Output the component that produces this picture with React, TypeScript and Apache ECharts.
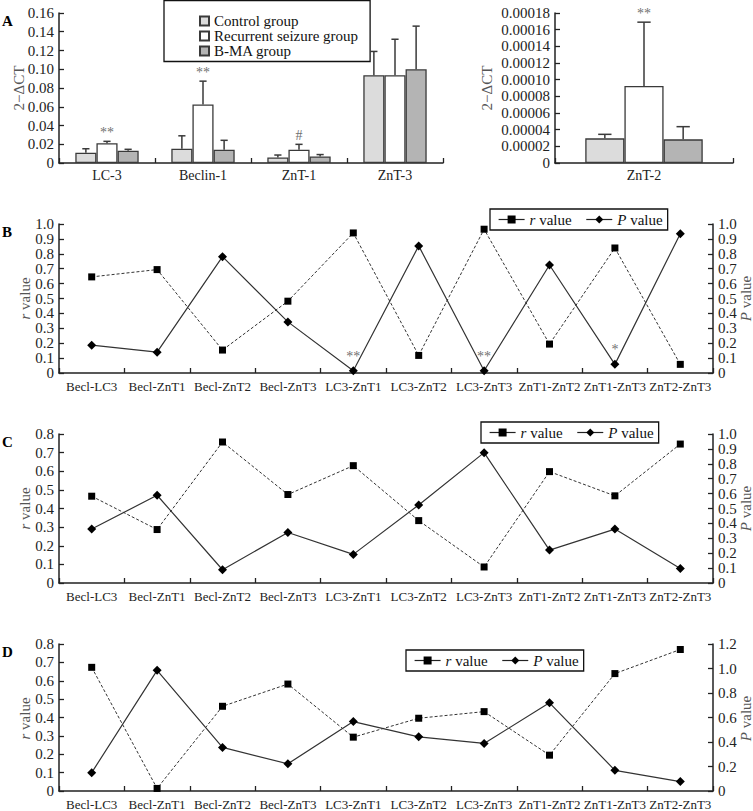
import React, { useEffect, useRef } from 'react';
import * as echarts from 'echarts';

const FONT = '"Liberation Serif", "Times New Roman", serif';

// ---------- Panel A data ----------
const aCategories = ['LC-3', 'Beclin-1', 'ZnT-1', 'ZnT-3'];
const groupNames = ['Control group', 'Recurrent seizure group', 'B-MA group'];
const controlMean = [0.011, 0.0152, 0.006, 0.0937];
const controlUpper = [0.0152, 0.029, 0.0085, 0.119];
const seizureMean = [0.021, 0.0625, 0.0142, 0.0937];
const seizureUpper = [0.0231, 0.0873, 0.0199, 0.132];
const bmaMean = [0.0131, 0.0142, 0.007, 0.1];
const bmaUpper = [0.0146, 0.0242, 0.009, 0.146];
const seizureMarks = ['**', '**', '#', ''];

const a2Categories = ['ZnT-2'];
const a2ControlMean = [0.0000296];
const a2ControlUpper = [0.0000344];
const a2SeizureMean = [0.0000924];
const a2SeizureUpper = [0.000169];
const a2BmaMean = [0.0000284];
const a2BmaUpper = [0.0000436];
const a2SeizureMarks = ['**'];

// ---------- Panels B-D data ----------
const pairs = ['Becl-LC3', 'Becl-ZnT1', 'Becl-ZnT2', 'Becl-ZnT3', 'LC3-ZnT1', 'LC3-ZnT2', 'LC3-ZnT3', 'ZnT1-ZnT2', 'ZnT1-ZnT3', 'ZnT2-ZnT3'];
const rB = [0.645, 0.694, 0.154, 0.482, 0.94, 0.118, 0.965, 0.194, 0.839, 0.058];
const pB = [0.187, 0.14, 0.781, 0.343, 0.015, 0.853, 0.015, 0.725, 0.058, 0.935];
const pMarksB = ['', '', '', '', '**', '', '**', '', '*', ''];
const rC = [0.466, 0.287, 0.757, 0.475, 0.63, 0.335, 0.086, 0.598, 0.468, 0.746];
const pC = [0.362, 0.589, 0.089, 0.339, 0.192, 0.524, 0.875, 0.221, 0.362, 0.098];
const rD = [0.673, 0.014, 0.461, 0.582, 0.293, 0.396, 0.432, 0.195, 0.639, 0.77];
const pD = [0.15, 0.985, 0.356, 0.222, 0.567, 0.442, 0.388, 0.72, 0.169, 0.077];

const BAR_FRAC = 0.22;
const DARK = '#222';
const EDGE = '#3a3a3a';
const MARK = '#707070';
const NAME_COLOR = '#555';
const GROUP_COLORS = ['#dcdcdc', '#ffffff', '#b4b4b4'];

function fmtFixed(d: number) {
  return (v: number) => (Math.abs(v) < 1e-12 ? '0' : v.toFixed(d));
}

function errItems(means: number[][], uppers: number[][], marks: string[][]) {
  const items: { cat: number; g: number; mean: number; upper: number; mark: string }[] = [];
  for (let g = 0; g < means.length; g++) {
    for (let i = 0; i < means[g].length; i++) {
      items.push({ cat: i, g, mean: means[g][i], upper: uppers[g][i], mark: marks[g][i] || '' });
    }
  }
  return items;
}

function errorSeries(items: ReturnType<typeof errItems>, axisIndex: number) {
  return {
    type: 'custom',
    xAxisIndex: axisIndex,
    yAxisIndex: axisIndex,
    z: 5,
    silent: true,
    encode: { x: 0, y: [2, 3] },
    data: items.map((d) => [d.cat, d.g, d.mean, d.upper]),
    renderItem: (params: any, api: any) => {
      const item = items[params.dataIndex];
      const band = api.size([1, 0])[0];
      const bw = band * BAR_FRAC;
      const base = api.coord([item.cat, item.mean]);
      const top = api.coord([item.cat, item.upper]);
      const x = base[0] + (item.g - 1) * bw;
      const cap = bw * 0.17;
      const children: any[] = [
        { type: 'line', shape: { x1: x, y1: base[1], x2: x, y2: top[1] }, style: { stroke: EDGE, lineWidth: 1.5 } },
        { type: 'line', shape: { x1: x - cap, y1: top[1], x2: x + cap, y2: top[1] }, style: { stroke: EDGE, lineWidth: 1.5 } },
      ];
      if (item.mark) {
        children.push({
          type: 'text',
          style: {
            text: item.mark,
            x,
            y: top[1] - 2,
            textAlign: 'center',
            textVerticalAlign: 'bottom',
            fill: MARK,
            font: `14px ${FONT}`,
          },
        });
      }
      return { type: 'group', children };
    },
  };
}

function barSeries(axisIndex: number, data: number[][]) {
  return data.map((vals, g) => ({
    type: 'bar',
    name: groupNames[g],
    xAxisIndex: axisIndex,
    yAxisIndex: axisIndex,
    barWidth: `${BAR_FRAC * 100}%`,
    barGap: '0%',
    data: vals,
    itemStyle: { color: GROUP_COLORS[g], borderColor: EDGE, borderWidth: 1.3 },
  }));
}

const catAxisBase = (gridIndex: number, data: string[], fontSize: number, margin: number) => ({
  type: 'category',
  gridIndex,
  data,
  axisLine: { show: true, lineStyle: { color: DARK, width: 1.5 } },
  axisTick: { show: true, inside: true, length: 5, lineStyle: { color: DARK, width: 1.3 } },
  axisLabel: { interval: 0, fontSize, fontFamily: FONT, color: DARK, margin },
});

const valAxis = (gridIndex: number, position: string, max: number, interval: number, decimals: number) => ({
  type: 'value',
  gridIndex,
  position,
  min: 0,
  max,
  interval,
  splitLine: { show: false },
  axisLine: { show: true, lineStyle: { color: DARK, width: 1.5 } },
  axisTick: { show: true, inside: true, length: 5, lineStyle: { color: DARK, width: 1.3 } },
  axisLabel: { fontSize: 15, fontFamily: FONT, color: DARK, margin: 5, formatter: fmtFixed(decimals) },
});

function corrSeries(axisX: number, yLeft: number, yRight: number, r: number[], p: number[], marks?: string[]) {
  return [
    {
      type: 'line',
      name: 'r value',
      xAxisIndex: axisX,
      yAxisIndex: yLeft,
      data: r,
      symbol: 'rect',
      symbolSize: 7,
      z: 3,
      lineStyle: { type: [3, 2], width: 1, color: '#333' },
      itemStyle: { color: '#000' },
    },
    {
      type: 'line',
      name: 'P value',
      xAxisIndex: axisX,
      yAxisIndex: yRight,
      data: p.map((v, i) =>
        marks && marks[i]
          ? { value: v, label: { show: true, formatter: marks[i], position: 'top', distance: 3, color: MARK, fontSize: 14, fontFamily: FONT } }
          : v
      ),
      symbol: 'diamond',
      symbolSize: 9,
      z: 4,
      lineStyle: { type: 'solid', width: 1.2, color: '#333' },
      itemStyle: { color: '#000' },
    },
  ];
}

const corrLegend = (left: number, top: number) => ({
  left,
  top,
  orient: 'horizontal',
  data: ['r value', 'P value'],
  itemWidth: 26,
  itemHeight: 10,
  itemGap: 14,
  padding: [3, 5, 3, 8],
  borderColor: '#111',
  borderWidth: 1.3,
  lineStyle: { type: 'solid', width: 1.2, color: '#222' },
  selectedMode: false,
  formatter: (name: string) => `{i|${name[0]}}${name.slice(1)}`,
  textStyle: {
    fontSize: 15,
    fontFamily: FONT,
    color: '#111',
    rich: { i: { fontStyle: 'italic', fontSize: 15, fontFamily: FONT, color: '#111' } },
  },
});

const axisName = (text: string, x: number, y: number) => ({
  type: 'text',
  x,
  y,
  rotation: Math.PI / 2,
  style: {
    text,
    textAlign: 'center',
    textVerticalAlign: 'middle',
    fill: NAME_COLOR,
    font: `15px ${FONT}`,
    rich: { i: { fontStyle: 'italic', fontSize: 15, fontFamily: FONT, fill: NAME_COLOR, color: NAME_COLOR } },
  },
});

export default function App() {
  const ref = useRef<HTMLDivElement>(null);

  useEffect(() => {
    document.body.style.margin = '0';
    if (!ref.current) return;
    const chart = echarts.init(ref.current, undefined, { renderer: 'svg' });

    const itemsA = errItems(
      [controlMean, seizureMean, bmaMean],
      [controlUpper, seizureUpper, bmaUpper],
      [[], seizureMarks, []]
    );
    const itemsA2 = errItems(
      [a2ControlMean, a2SeizureMean, a2BmaMean],
      [a2ControlUpper, a2SeizureUpper, a2BmaUpper],
      [[], a2SeizureMarks, []]
    );

    const panelLabel = (text: string, top: number) => ({
      type: 'text',
      left: 2,
      top,
      style: { text, font: `bold 15px ${FONT}`, fill: '#000' },
    });

    const option: any = {
      animation: false,
      textStyle: { fontFamily: FONT },
      grid: [
        { left: 59, top: 13, width: 384, height: 150 },
        { left: 555, top: 13, width: 178, height: 150 },
        { left: 59, top: 224, width: 654, height: 149 },
        { left: 59, top: 434, width: 654, height: 149 },
        { left: 59, top: 644, width: 654, height: 149 },
      ],
      xAxis: [
        catAxisBase(0, aCategories, 14, 5),
        catAxisBase(1, a2Categories, 14, 5),
        catAxisBase(2, pairs, 13, 7),
        catAxisBase(3, pairs, 13, 7),
        catAxisBase(4, pairs, 13, 7),
      ],
      yAxis: [
        valAxis(0, 'left', 0.16, 0.02, 2),
        valAxis(1, 'left', 0.00018, 0.00002, 5),
        valAxis(2, 'left', 1.0, 0.1, 1),
        valAxis(2, 'right', 1.0, 0.1, 1),
        valAxis(3, 'left', 0.8, 0.1, 1),
        valAxis(3, 'right', 1.0, 0.1, 1),
        valAxis(4, 'left', 0.8, 0.1, 1),
        valAxis(4, 'right', 1.2, 0.2, 1),
      ],
      legend: [
        {
          left: 164,
          top: 0.5,
          orient: 'vertical',
          data: groupNames,
          icon: 'rect',
          itemWidth: 9,
          itemHeight: 9,
          itemGap: 0,
          padding: [13, 12, 3, 35],
          borderColor: '#111',
          borderWidth: 1.3,
          selectedMode: false,
          textStyle: { fontSize: 15, fontFamily: FONT, color: '#111', lineHeight: 14.5 },
        },
        corrLegend(490, 209),
        corrLegend(481, 422),
        corrLegend(406, 650),
      ],
      graphic: [
        panelLabel('A', 13),
        panelLabel('B', 224),
        panelLabel('C', 434),
        panelLabel('D', 644),
        axisName('2−ΔCT', 19, 88),
        axisName('2−ΔCT', 487, 88),
        axisName('{i|r} value', 25, 298.5),
        axisName('{i|P} value', 746, 298.5),
        axisName('{i|r} value', 25, 508.5),
        axisName('{i|P} value', 746, 508.5),
        axisName('{i|r} value', 25, 718.5),
        axisName('{i|P} value', 746, 718.5),
      ],
      series: [
        ...barSeries(0, [controlMean, seizureMean, bmaMean]),
        ...barSeries(1, [a2ControlMean, a2SeizureMean, a2BmaMean]),
        errorSeries(itemsA, 0),
        errorSeries(itemsA2, 1),
        ...corrSeries(2, 2, 3, rB, pB, pMarksB),
        ...corrSeries(3, 4, 5, rC, pC),
        ...corrSeries(4, 6, 7, rD, pD),
      ],
    };

    chart.setOption(option);
    return () => chart.dispose();
  }, []);

  return <div ref={ref} style={{ width: 753, height: 811 }} />;
}
